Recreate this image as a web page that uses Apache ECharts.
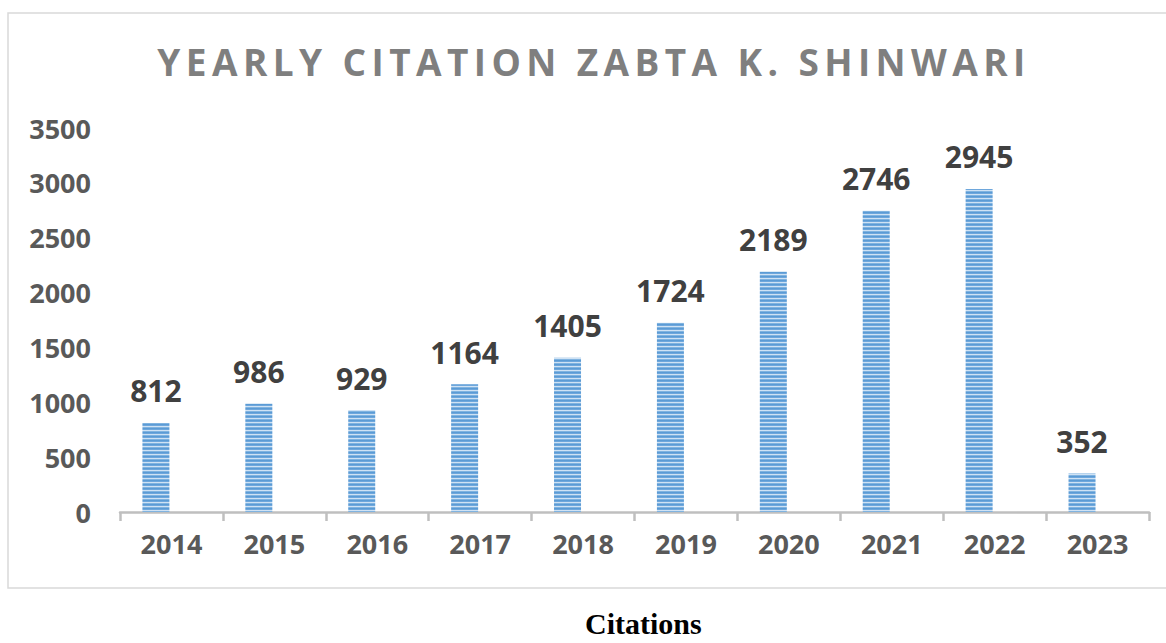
<!DOCTYPE html>
<html>
<head>
<meta charset="utf-8">
<script src="https://cdn.jsdelivr.net/npm/echarts@6/dist/echarts.min.js"></script>
<style>
  html, body { margin: 0; padding: 0; background: #fff; }
  #chart { width: 1166px; height: 643px; }
  #chart text[style*="37px"] { letter-spacing: 5.4px; }
</style>
</head>
<body>
<div id="chart"></div>
<script>
const titleText = 'YEARLY CITATION ZABTA K. SHINWARI';
const xTitle = 'Citations';
const years = ['2014', '2015', '2016', '2017', '2018', '2019', '2020', '2021', '2022', '2023'];
const citations = [812, 986, 929, 1164, 1405, 1724, 2189, 2746, 2945, 352];
const yTicks = [0, 500, 1000, 1500, 2000, 2500, 3000, 3500];

// striped pattern for bars
const pc = document.createElement('canvas');
pc.width = 4; pc.height = 4;
const pctx = pc.getContext('2d');
const rows = ['#5b9bd5', '#6ea7dc', '#cfe2f4', '#80b3e0'];
rows.forEach((c, i) => { pctx.fillStyle = c; pctx.fillRect(0, i, 4, 1); });

const chart = echarts.init(document.getElementById('chart'), null, { renderer: 'svg' });
chart.setOption({
  backgroundColor: '#ffffff',
  animation: false,
  title: {
    text: titleText,
    left: 589, top: 38, textAlign: 'center',
    textStyle: { fontFamily: 'Open Sans', fontWeight: 'bold', fontSize: 37, color: '#7f7f7f' }
  },
  graphic: [
    { type: 'rect', shape: { x: 8, y: 13, width: 1170, height: 575 },
      style: { fill: 'none', stroke: '#d9d9d9', lineWidth: 1.5 }, z: -1 },
    { type: 'text', left: 585, top: 608,
      style: { text: xTitle, font: 'bold 30px "Liberation Serif", "Times New Roman", serif', fill: '#000' } }
  ],
  grid: { left: 120, right: 17, top: 128, bottom: 131 },
  xAxis: {
    type: 'category',
    data: years,
    axisLine: { lineStyle: { color: '#bfbfbf', width: 2.5 } },
    axisTick: { show: true, length: 9, lineStyle: { color: '#bfbfbf', width: 2.5 } },
    axisLabel: { fontFamily: 'Open Sans', fontWeight: 'bold', fontSize: 27, color: '#595959', margin: 18 }
  },
  yAxis: {
    type: 'value',
    min: yTicks[0], max: yTicks[yTicks.length - 1], interval: 500,
    axisLine: { show: false },
    axisTick: { show: false },
    splitLine: { show: false },
    axisLabel: { fontFamily: 'Open Sans', fontWeight: 'bold', fontSize: 27, color: '#595959', margin: 29,
      formatter: v => String(v) }
  },
  series: [
    {
      type: 'bar',
      data: citations,
      barWidth: 27,
      barGap: '15%',
      itemStyle: { color: { image: pc, repeat: 'repeat' } },
      label: {
        show: true, position: 'top', distance: 17,
        fontFamily: 'Open Sans', fontWeight: 'bold', fontSize: 30, color: '#404040'
      }
    },
    {
      type: 'bar',
      data: years.map(() => '-'),
      barWidth: 27
    }
  ]
});
</script>
</body>
</html>
